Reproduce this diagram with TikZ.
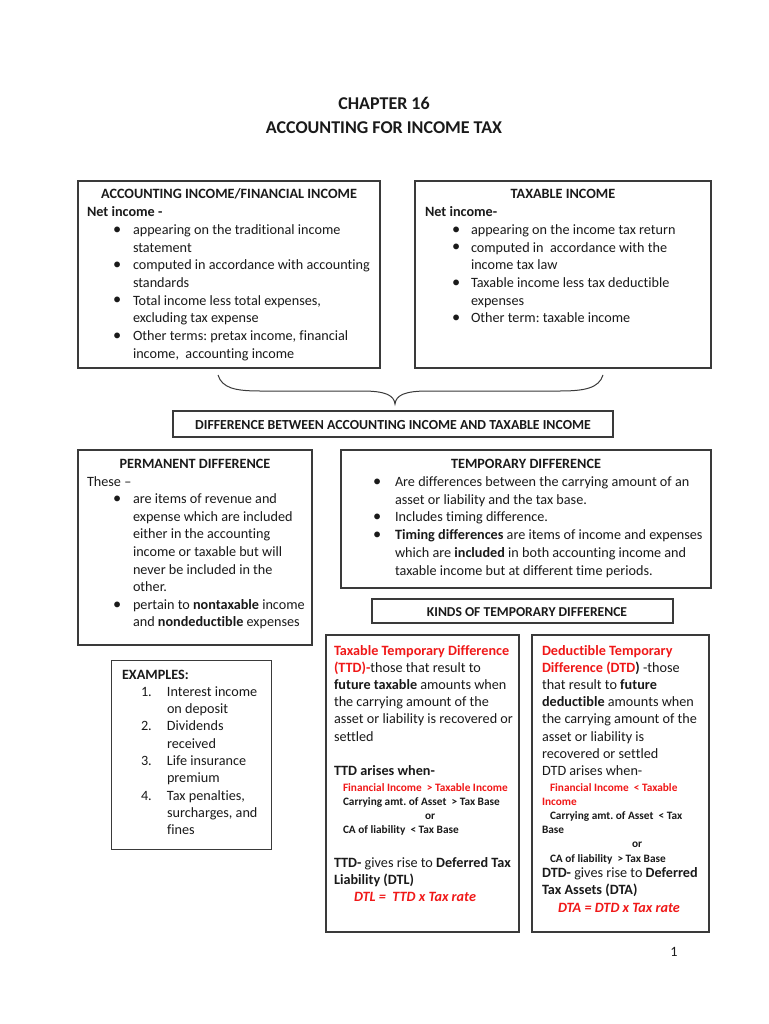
\documentclass[tikz,border=0pt]{standalone}
\usepackage{fontspec}
\setmainfont{Carlito}[Ligatures={NoCommon}]
\frenchspacing
\definecolor{txt}{HTML}{1A1A1A}
\definecolor{rd}{HTML}{F01818}
\definecolor{ln}{HTML}{3A3A3A}
\newcommand\bodyf{\fontsize{14.2}{17.7}\selectfont}
\newcommand\bi[3]{\hspace*{#1}\makebox[#2][l]{\raisebox{0.3pt}{\scalebox{1.15}{\textbullet}}}#3}
\newcommand\ctr[2]{\makebox[#1]{#2}}
\begin{document}
\begin{tikzpicture}[x=1pt,y=-1pt,
  box/.style={draw=ln, line width=1.1pt, inner sep=0pt, outer sep=0pt, fill=white},
  txtn/.style={anchor=base west, inner sep=0pt, outer sep=0pt, text=txt},
  ctrn/.style={anchor=base, inner sep=0pt, outer sep=0pt, text=txt}]
\useasboundingbox[fill=white] (0,0) rectangle (768,1024);

% title
\node[ctrn, font=\fontsize{18}{20}\selectfont\bfseries] (title1) at (384,110) {CHAPTER 16};
\node[ctrn, font=\fontsize{18}{20}\selectfont\bfseries] (title2) at (384,134) {ACCOUNTING FOR INCOME TAX};

% boxes
\node[box, minimum width=302pt, minimum height=187pt] (acc) at (229,274.5) {};
\node[box, minimum width=296pt, minimum height=187pt] (tax) at (563,274.5) {};
\node[box, minimum width=440pt, minimum height=26pt] (diff) at (393,424) {};
\node[box, minimum width=234pt, minimum height=195pt] (perm) at (195,547.5) {};
\node[box, minimum width=370pt, minimum height=138pt] (temp) at (526,519) {};
\node[box, minimum width=301pt, minimum height=24pt] (kinds) at (522.5,611) {};
\node[box, minimum width=160pt, minimum height=189pt] (ex) at (191.5,755) {};
\node[box, minimum width=193pt, minimum height=297pt] (ttd) at (422.5,783.5) {};
\node[box, minimum width=177pt, minimum height=297pt] (dtd) at (620.5,783.5) {};

% brace
\coordinate (brL) at (218,375);
\coordinate (brR) at (603,375);
\coordinate (brT) at (395,404);
\draw[draw=ln, line width=1pt] (brL) .. controls (222,388) and (235,391) .. (260,391)
  -- (362,391) .. controls (385,391) and (394,395) .. (brT)
  .. controls (396,395) and (405,391) .. (428,391)
  -- (560,391) .. controls (585,391) and (599,388) .. (brR);

% accounting income
\node[txtn] (accT) at (87,199) {\begin{minipage}[t]{400pt}\bodyf\raggedright
\ctr{284pt}{\textbf{ACCOUNTING INCOME/FINANCIAL INCOME}}\\
\textbf{Net income -}\\
\bi{26pt}{20pt}{appearing on the traditional income}\\
\hspace*{46pt}statement\\
\bi{26pt}{20pt}{computed in accordance with accounting}\\
\hspace*{46pt}standards\\
\bi{26pt}{20pt}{Total income less total expenses,}\\
\hspace*{46pt}excluding tax expense\\
\bi{26pt}{20pt}{Other terms: pretax income, financial}\\
\hspace*{46pt}income,\ \ accounting income
\end{minipage}};

% taxable income
\node[txtn] (taxT) at (425,199) {\begin{minipage}[t]{400pt}\bodyf\raggedright
\ctr{276pt}{\textbf{TAXABLE INCOME}}\\
\textbf{Net income-}\\
\bi{27pt}{19pt}{appearing on the income tax return}\\
\bi{27pt}{19pt}{computed in\ \ accordance with the}\\
\hspace*{46pt}income tax law\\
\bi{27pt}{19pt}{Taxable income less tax deductible}\\
\hspace*{46pt}expenses\\
\bi{27pt}{19pt}{Other term: taxable income}
\end{minipage}};

% difference
\node[ctrn, font=\fontsize{13.8}{16}\selectfont\bfseries] (diffT) at (393,429) {DIFFERENCE BETWEEN ACCOUNTING INCOME AND TAXABLE INCOME};

% permanent
\node[txtn] (permT) at (87,468.5) {\begin{minipage}[t]{400pt}\fontsize{14.2}{17.6}\selectfont\raggedright
\ctr{216pt}{\textbf{PERMANENT DIFFERENCE}}\\
These –\\
\bi{26pt}{20pt}{are items of revenue and}\\
\hspace*{46pt}expense which are included\\
\hspace*{46pt}either in the accounting\\
\hspace*{46pt}income or taxable but will\\
\hspace*{46pt}never be included in the\\
\hspace*{46pt}other.\\
\bi{26pt}{20pt}{pertain to \textbf{nontaxable} income}\\
\hspace*{46pt}and \textbf{nondeductible} expenses
\end{minipage}};

% temporary
\node[txtn] (tempT) at (373,468.5) {\begin{minipage}[t]{400pt}\fontsize{14.2}{17.8}\selectfont\raggedright
\ctr{306pt}{\textbf{TEMPORARY DIFFERENCE}}\\
\bi{0pt}{22pt}{Are differences between the carrying amount of an}\\
\hspace*{22pt}asset or liability and the tax base.\\
\bi{0pt}{22pt}{Includes timing difference.}\\
\bi{0pt}{22pt}{\textbf{Timing differences} are items of income and expenses}\\
\hspace*{22pt}which are \textbf{included} in both accounting income and\\
\hspace*{22pt}taxable income but at different time periods.
\end{minipage}};

% kinds
\node[ctrn, font=\fontsize{13.6}{16}\selectfont\bfseries] (kindsT) at (527,616) {KINDS OF TEMPORARY DIFFERENCE};

% examples
\node[txtn] (exT) at (122,679) {\begin{minipage}[t]{200pt}\fontsize{14.2}{17.3}\selectfont\raggedright
\textbf{EXAMPLES:}\\
\hspace*{19pt}\makebox[26pt][l]{1.}Interest income\\
\hspace*{45pt}on deposit\\
\hspace*{19pt}\makebox[26pt][l]{2.}Dividends\\
\hspace*{45pt}received\\
\hspace*{19pt}\makebox[26pt][l]{3.}Life insurance\\
\hspace*{45pt}premium\\
\hspace*{19pt}\makebox[26pt][l]{4.}Tax penalties,\\
\hspace*{45pt}surcharges, and\\
\hspace*{45pt}fines
\end{minipage}};

% TTD
\node[txtn] (ttdA) at (334,655) {\begin{minipage}[t]{250pt}\fontsize{14.2}{17.2}\selectfont\raggedright
\textcolor{rd}{\textbf{Taxable Temporary Difference}}\\
\textcolor{rd}{\textbf{(TTD)-}}those that result to\\
\textbf{future taxable} amounts when\\
the carrying amount of the\\
asset or liability is recovered or\\
settled\\
\mbox{}\\
\textbf{TTD arises when-}
\end{minipage}};
\node[txtn] (ttdB) at (343,791) {\begin{minipage}[t]{250pt}\fontsize{11.3}{14}\selectfont\raggedright\bfseries
\textcolor{rd}{Financial Income\ \ > Taxable Income}\\
Carrying amt. of Asset\ \ > Tax Base\\
\hspace*{82pt}or\\
CA of liability\ \ < Tax Base
\end{minipage}};
\node[txtn] (ttdC) at (334,867) {\begin{minipage}[t]{250pt}\fontsize{14.2}{17.4}\selectfont\raggedright
\textbf{TTD-} gives rise to \textbf{Deferred Tax}\\
\textbf{Liability (DTL)}\\
\hspace*{20pt}\textcolor{rd}{\textbf{\textit{DTL =\ \ TTD x Tax rate}}}
\end{minipage}};

% DTD
\node[txtn] (dtdA) at (542,655) {\begin{minipage}[t]{250pt}\fontsize{14.2}{17.2}\selectfont\raggedright
\textcolor{rd}{\textbf{Deductible Temporary}}\\
\textcolor{rd}{\textbf{Difference (DTD}}\textbf{)} -those\\
that result to \textbf{future}\\
\textbf{deductible} amounts when\\
the carrying amount of the\\
asset or liability is\\
recovered or settled\\
DTD arises when-
\end{minipage}};
\node[txtn] (dtdB) at (542,791) {\begin{minipage}[t]{250pt}\fontsize{11.3}{14.2}\selectfont\raggedright\bfseries
\hspace*{8pt}\textcolor{rd}{Financial Income\ \ < Taxable}\\
\textcolor{rd}{Income}\\
\hspace*{8pt}Carrying amt. of Asset\ \ < Tax\\
Base\\
\hspace*{90pt}or\\
\hspace*{8pt}CA of liability\ \ > Tax Base
\end{minipage}};
\node[txtn] (dtdC) at (542,877) {\begin{minipage}[t]{250pt}\fontsize{14.2}{17.5}\selectfont\raggedright
\textbf{DTD-} gives rise to \textbf{Deferred}\\
\textbf{Tax Assets (DTA)}\\
\hspace*{16pt}\textcolor{rd}{\textbf{\textit{DTA = DTD x Tax rate}}}
\end{minipage}};

% page number
\node[ctrn, font=\fontsize{14.2}{17}\selectfont] (pgno) at (674,956) {1};
\end{tikzpicture}
\end{document}
